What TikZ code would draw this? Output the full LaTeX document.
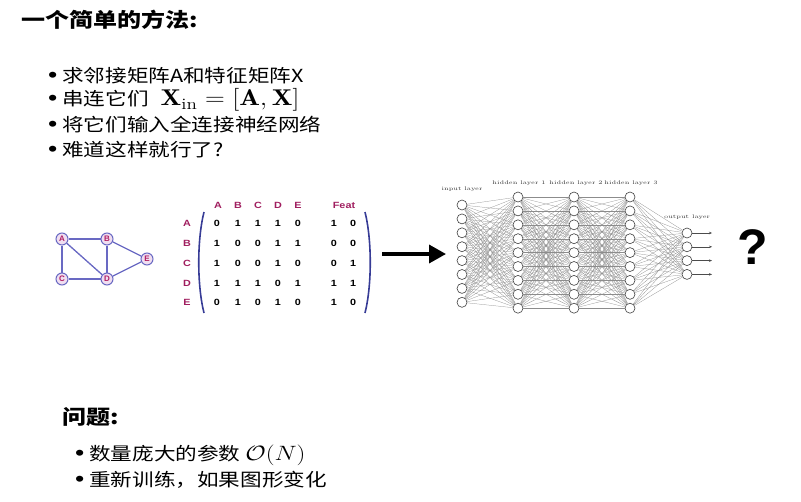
\documentclass[tikz,border=0pt]{standalone}
\usepackage{fontspec}
\newfontfamily\cjk{Noto Sans CJK SC}
\newfontfamily\arial{Liberation Sans}
\usetikzlibrary{arrows.meta}
\newcommand\hst[1]{\scalebox{1.2}[1]{#1}}
\newcommand\bul{{\arial\fontsize{22}{22}\selectfont•}\hspace{4pt}}
\newcommand\bigmath[1]{{\fontsize{20.74}{25}\selectfont$#1$}}
\definecolor{gedge}{RGB}{105,105,195}
\definecolor{gfill}{RGB}{240,222,240}
\definecolor{glab}{RGB}{175,30,100}
\definecolor{mcol}{RGB}{160,30,95}
\definecolor{brk}{RGB}{55,60,150}
\tikzset{
 body/.style={anchor=west, inner sep=0pt, font=\cjk\fontsize{18}{22}\selectfont},
 head/.style={anchor=west, inner sep=0pt, font=\cjk\bfseries\fontsize{20}{24}\selectfont},
 gnode/.style={circle, draw=gedge, fill=gfill, line width=1pt, minimum size=12pt, inner sep=0pt, text=glab, font=\arial\bfseries\fontsize{8}{8}\selectfont},
 gline/.style={draw=gedge, line width=1.3pt},
 mhead/.style={text=mcol, font=\arial\bfseries\fontsize{9}{9}\selectfont, inner sep=0pt},
 mval/.style={text=black, font=\arial\bfseries\fontsize{9}{9}\selectfont, inner sep=0pt},
 bracket/.style={draw=brk, line width=1.6pt},
 neuron/.style={circle, draw=black!75, fill=white, line width=0.6pt, minimum size=10pt, inner sep=0pt},
 syn/.style={draw=black!45, line width=0.25pt},
 nnlab/.style={font=\fontsize{5.2}{6}\selectfont, inner sep=0pt, text=black!80},
 bigarrow/.style={line width=3.5pt, -{Triangle[length=17pt,width=18pt]}},
 outarrow/.style={draw=black!70, line width=0.4pt, -{Stealth[length=3pt,width=2.5pt]}},
}
\begin{document}
\begin{tikzpicture}[x=1pt,y=-1pt]
\useasboundingbox (0,0) rectangle (801,501);
% texts
\node[head] (title) at (21,20) {\hst{一个简单的方法:}};
\node[body] (b1) at (48,76) {\hst{\bul 求邻接矩阵A和特征矩阵X}};
\node[body] (b2) at (48,100) {\hst{\bul 串连它们\hspace{10pt}\scalebox{1.1}{\bigmath{\mathbf{X}_{\mathrm{in}}=[\mathbf{A},\mathbf{X}]}}}};
\node[body] (b3) at (48,125) {\hst{\bul 将它们输入全连接神经网络}};
\node[body] (b4) at (48,150) {\hst{\bul 难道这样就行了?}};
\node[head] (q2) at (62,417) {\hst{问题:}};
\node[body] (c1) at (75,455) {\hst{\bul 数量庞大的参数 \bigmath{\mathcal{O}(N)}}};
\node[body] (c2) at (75,480) {\hst{\bul 重新训练，如果图形变化}};
% graph
\node[gnode] (A) at (62,239) {A};
\node[gnode] (B) at (107,239) {B};
\node[gnode] (C) at (62,279) {C};
\node[gnode] (D) at (107,279) {D};
\node[gnode] (E) at (147,259) {E};
\foreach \u/\v in {A/B,A/C,A/D,B/D,B/E,C/D,D/E} \draw[gline] (\u) -- (\v);
% matrix
\foreach \c/\x in {A/218,B/238,C/258,D/278,E/298} \node[mhead] (h\c) at (\x,205) {\hst{\c}};
\node[mhead] (hF) at (344,205) {\hst{Feat}};
\foreach \r/\y in {A/223,B/243,C/263,D/283,E/302} \node[mhead] (r\r) at (187,\y) {\hst{\r}};
\foreach \row/\y [count=\i] in {{0,1,1,1,0,1,0}/223,{1,0,0,1,1,0,0}/243,{1,0,0,1,0,0,1}/263,{1,1,1,0,1,1,1}/283,{0,1,0,1,0,1,0}/302}{
  \foreach \v [count=\j] in \row {
    \pgfmathsetmacro\mx{{217,238,258,278,298,334,353}[\j-1]}
    \node[mval] (m\i-\j) at (\mx,\y) {\hst{\v}};
  }
}
\draw[bracket] (204,212) .. controls (197,240) and (197,285) .. (204,313);
\draw[bracket] (365,212) .. controls (372,240) and (372,285) .. (365,313);
% big arrow
\coordinate (as) at (382,254);
\coordinate (ae) at (446,254);
\draw[bigarrow] (as) -- (ae);
% network
\foreach \i in {1,...,8} \node[neuron] (in\i) at (462,{205+13.9*(\i-1)}) {};
\foreach \l/\x in {1/518,2/574,3/630}
  \foreach \i in {1,...,9} \node[neuron] (h\l n\i) at (\x,{197+13.9*(\i-1)}) {};
\foreach \i in {1,...,4} \node[neuron] (out\i) at (687,{233+13.8*(\i-1)}) {};
\foreach \i in {1,...,8} \foreach \j in {1,...,9} \draw[syn] (in\i) -- (h1n\j);
\foreach \a/\b in {1/2,2/3}
  \foreach \i in {1,...,9} \foreach \j in {1,...,9} \draw[syn] (h\a n\i) -- (h\b n\j);
\foreach \i in {1,...,9} \foreach \j in {1,...,4} \draw[syn] (h3n\i) -- (out\j);
\foreach \i in {1,...,4} {
  \coordinate (oe\i) at (712,{233+13.8*(\i-1)});
  \draw[outarrow] (out\i) -- (oe\i);
}
\node[nnlab] (lin) at (462,189) {\hst{input layer}};
\node[nnlab] (lh1) at (519,183) {\hst{hidden layer 1}};
\node[nnlab] (lh2) at (576,183) {\hst{hidden layer 2}};
\node[nnlab] (lh3) at (631,183) {\hst{hidden layer 3}};
\node[nnlab] (lout) at (687,217) {\hst{output layer}};
% question mark
\node[font=\arial\bfseries\fontsize{50}{50}\selectfont, inner sep=0pt] (qm) at (753,247) {?};
\end{tikzpicture}
\end{document}
